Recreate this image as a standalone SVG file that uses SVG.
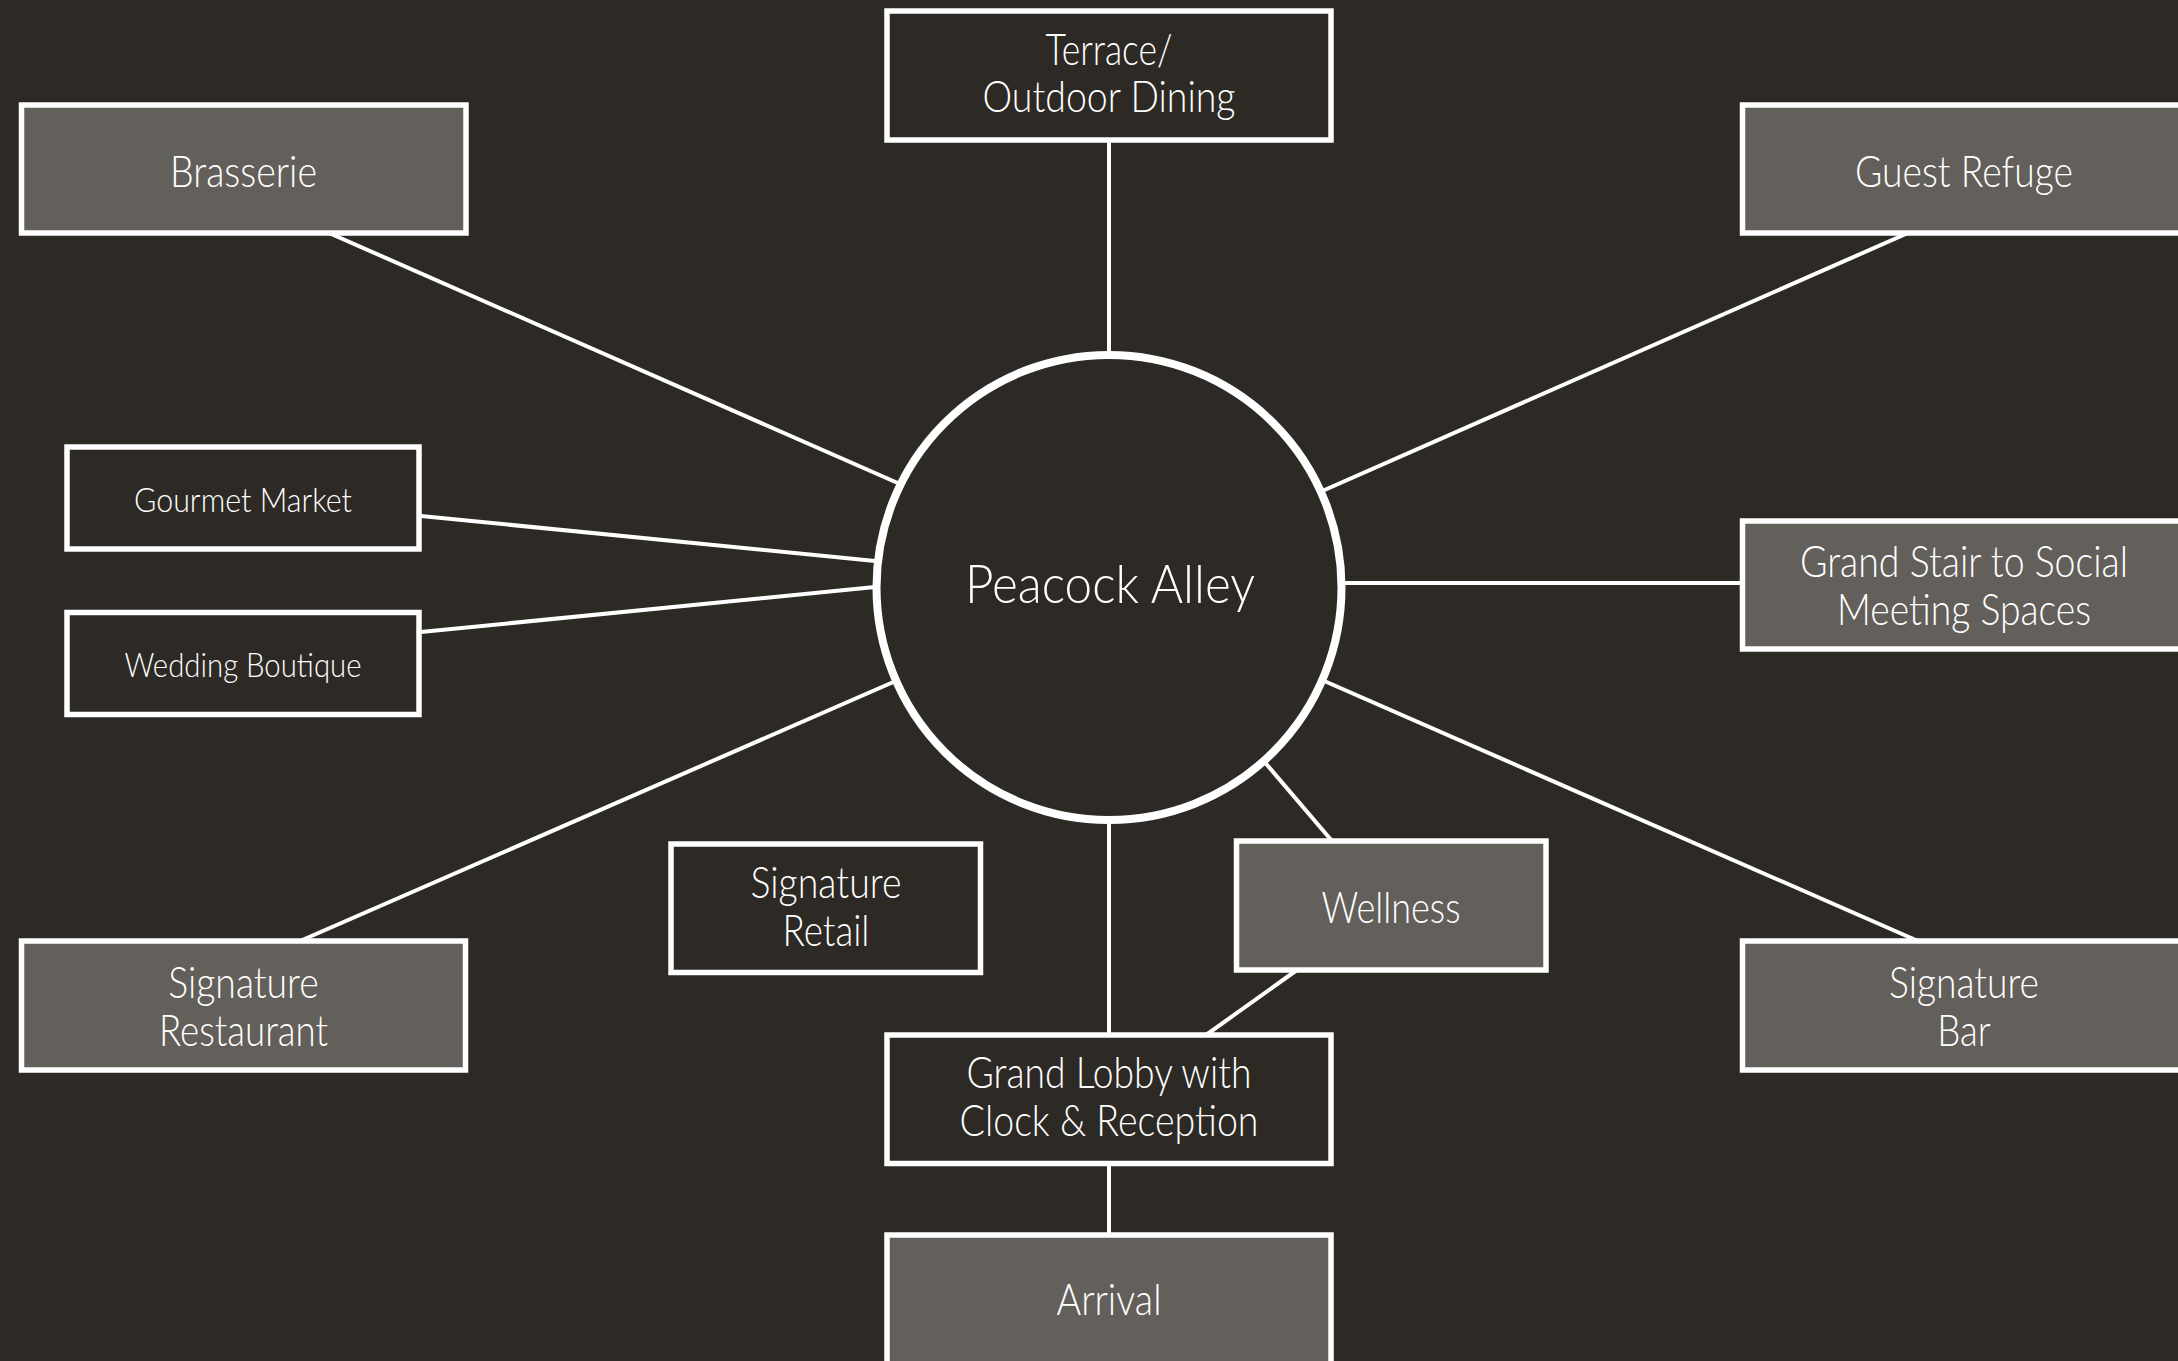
<svg xmlns="http://www.w3.org/2000/svg" width="2178" height="1361" viewBox="0 0 2178 1361">
<style>
.bg{fill:#2d2a26}
.box{stroke:#ffffff;stroke-width:5.5}
.dark{fill:#2d2a26}
.grey{fill:#635f5b}
.ln{stroke:#ffffff;stroke-width:4;fill:none}
.hub{fill:#2d2a26;stroke:#ffffff;stroke-width:8}
text{font-family:Lato,"Noto Sans","Liberation Sans",sans-serif;font-weight:300;fill:#ffffff;text-anchor:middle}
.t{font-size:44px}
.s{font-size:33px}
.h{font-size:53px}
</style>
<rect class="bg" x="0" y="0" width="2178" height="1361"/>
<g id="connectors">
<line class="ln" x1="1109" y1="140" x2="1109" y2="360"/>
<line class="ln" x1="329" y1="233" x2="900" y2="484"/>
<line class="ln" x1="1908" y1="233" x2="1320" y2="492"/>
<line class="ln" x1="421" y1="516" x2="880" y2="561.5"/>
<line class="ln" x1="421" y1="632" x2="880" y2="586.5"/>
<line class="ln" x1="300" y1="941" x2="898" y2="680"/>
<line class="ln" x1="1918" y1="941" x2="1322" y2="680"/>
<line class="ln" x1="1336" y1="583" x2="1742" y2="583"/>
<line class="ln" x1="1262" y1="759" x2="1332" y2="841"/>
<line class="ln" x1="1297" y1="970" x2="1206" y2="1035"/>
<line class="ln" x1="1109" y1="815" x2="1109" y2="1035"/>
<line class="ln" x1="1109" y1="1163" x2="1109" y2="1235"/>
</g>
<g id="peacock-alley">
<circle class="hub" cx="1109" cy="587.5" r="232.5"/>
<text class="h" x="1110" y="603" textLength="290" lengthAdjust="spacingAndGlyphs">Peacock Alley</text>
</g>
<g id="terrace">
<rect class="box dark" x="887" y="11" width="444" height="129"/>
<text class="t" x="1109" y="65" textLength="127" lengthAdjust="spacingAndGlyphs">Terrace/</text>
<text class="t" x="1109" y="112" textLength="253" lengthAdjust="spacingAndGlyphs">Outdoor Dining</text>
</g>
<g id="brasserie">
<rect class="box grey" x="21.5" y="105" width="444.5" height="128"/>
<text class="t" x="243.5" y="187" textLength="147" lengthAdjust="spacingAndGlyphs">Brasserie</text>
</g>
<g id="guest-refuge">
<rect class="box grey" x="1742.5" y="105" width="444.5" height="128"/>
<text class="t" x="1964" y="187" textLength="218" lengthAdjust="spacingAndGlyphs">Guest Refuge</text>
</g>
<g id="gourmet-market">
<rect class="box dark" x="67" y="447" width="352" height="102"/>
<text class="s" x="243" y="512" textLength="218" lengthAdjust="spacingAndGlyphs">Gourmet Market</text>
</g>
<g id="wedding-boutique">
<rect class="box dark" x="67" y="612.5" width="352" height="102"/>
<text class="s" x="243" y="677" textLength="237" lengthAdjust="spacingAndGlyphs">Wedding Boutique</text>
</g>
<g id="grand-stair">
<rect class="box grey" x="1742.5" y="521" width="444.5" height="128"/>
<text class="t" x="1964" y="577" textLength="328" lengthAdjust="spacingAndGlyphs">Grand Stair to Social</text>
<text class="t" x="1964" y="625" textLength="254" lengthAdjust="spacingAndGlyphs">Meeting Spaces</text>
</g>
<g id="signature-retail">
<rect class="box dark" x="671" y="844" width="309.5" height="128.5"/>
<text class="t" x="826" y="898" textLength="151" lengthAdjust="spacingAndGlyphs">Signature</text>
<text class="t" x="826" y="946" textLength="87" lengthAdjust="spacingAndGlyphs">Retail</text>
</g>
<g id="wellness">
<rect class="box grey" x="1236.5" y="841" width="309.5" height="129"/>
<text class="t" x="1391" y="923" textLength="139" lengthAdjust="spacingAndGlyphs">Wellness</text>
</g>
<g id="signature-restaurant">
<rect class="box grey" x="21.5" y="941" width="444" height="129"/>
<text class="t" x="243.5" y="998" textLength="150.5" lengthAdjust="spacingAndGlyphs">Signature</text>
<text class="t" x="243.5" y="1046" textLength="169" lengthAdjust="spacingAndGlyphs">Restaurant</text>
</g>
<g id="signature-bar">
<rect class="box grey" x="1742.5" y="941" width="444.5" height="129"/>
<text class="t" x="1964" y="998" textLength="150" lengthAdjust="spacingAndGlyphs">Signature</text>
<text class="t" x="1964" y="1046" textLength="53.5" lengthAdjust="spacingAndGlyphs">Bar</text>
</g>
<g id="grand-lobby">
<rect class="box dark" x="887" y="1035" width="444" height="128.5"/>
<text class="t" x="1109" y="1088" textLength="285" lengthAdjust="spacingAndGlyphs">Grand Lobby with</text>
<text class="t" x="1109" y="1136" textLength="299" lengthAdjust="spacingAndGlyphs">Clock &amp; Reception</text>
</g>
<g id="arrival">
<rect class="box grey" x="887" y="1235" width="444" height="140"/>
<text class="t" x="1109" y="1315" textLength="105" lengthAdjust="spacingAndGlyphs">Arrival</text>
</g>
</svg>
